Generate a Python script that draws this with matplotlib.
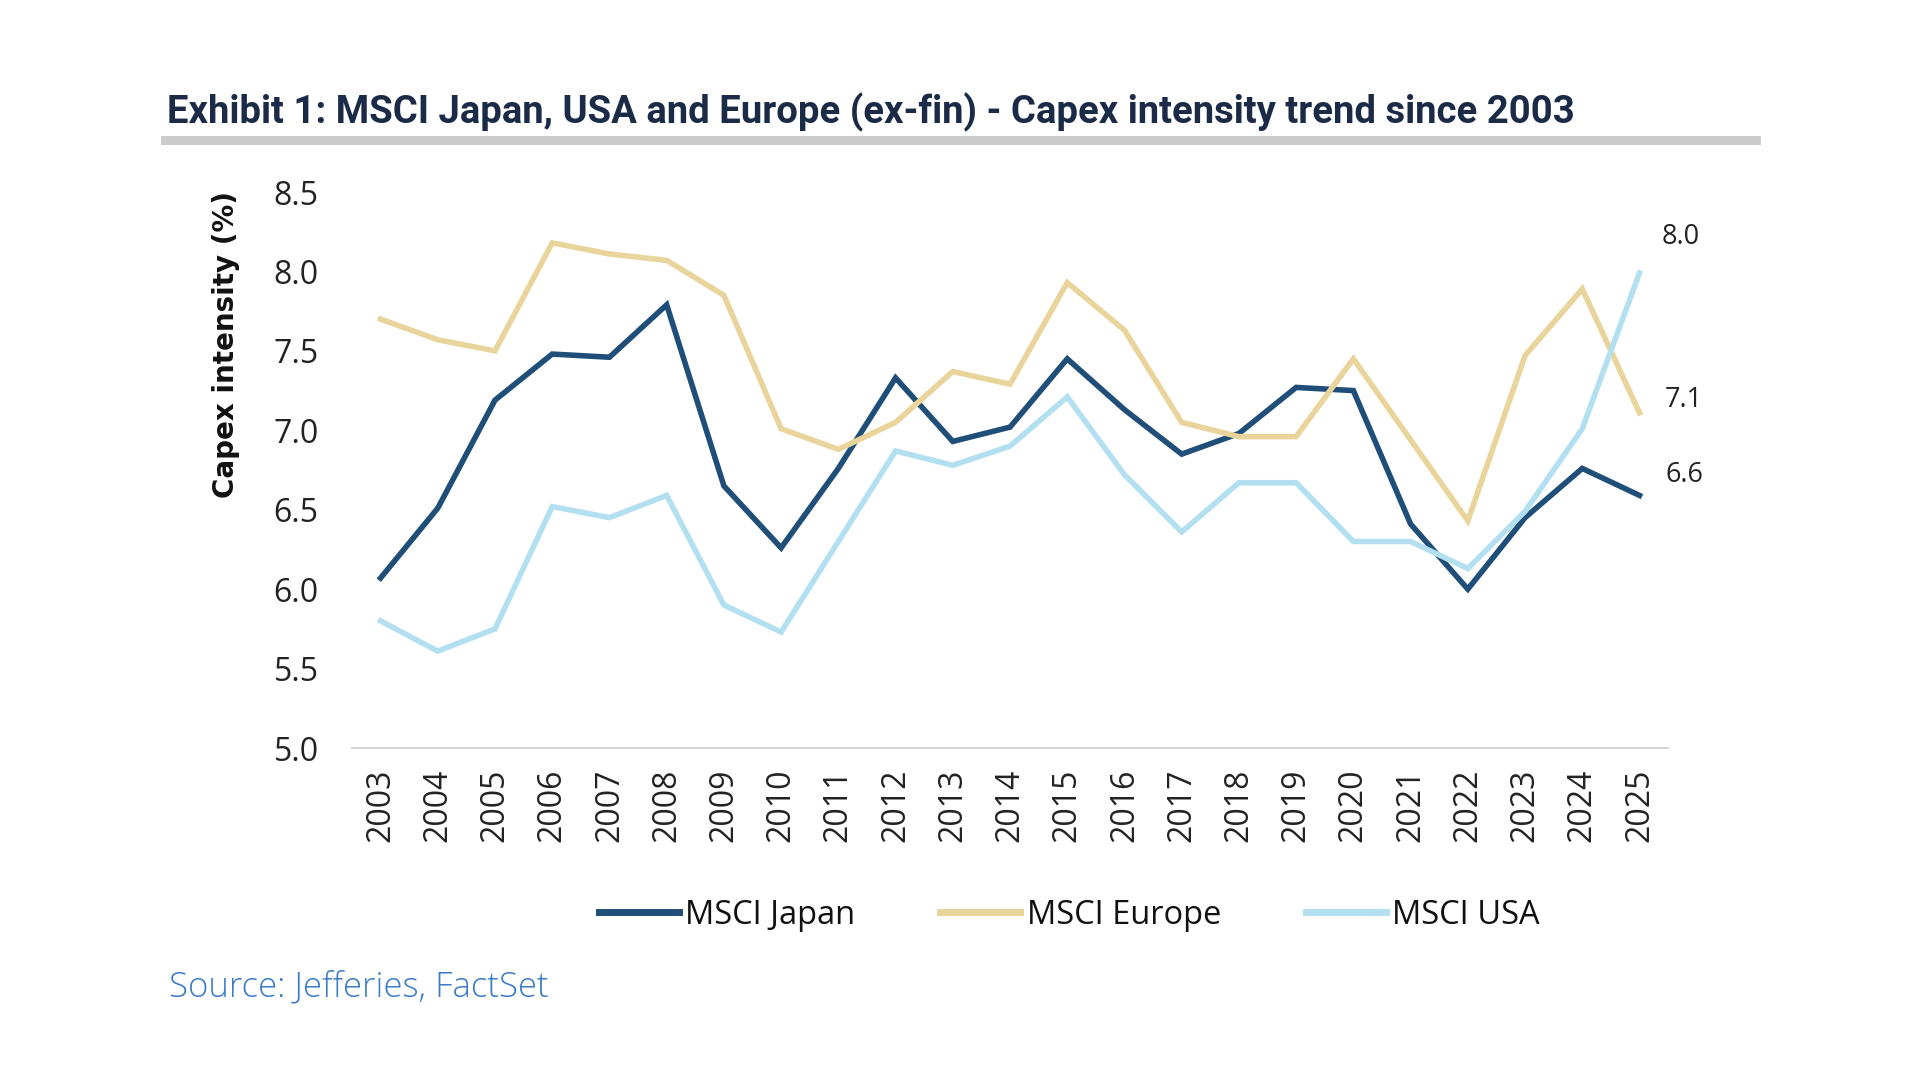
import matplotlib
matplotlib.use("Agg")
import matplotlib.pyplot as plt
from matplotlib.patches import Rectangle
from matplotlib.lines import Line2D

# Datos
anios = [str(a) for a in range(2003, 2026)]

msci_japan = [6.07, 6.51, 7.19, 7.48, 7.46, 7.79, 6.65, 6.26, 6.76, 7.33, 6.93, 7.02,
              7.45, 7.13, 6.85, 6.98, 7.27, 7.25, 6.41, 6.00, 6.45, 6.76, 6.59]
msci_europe = [7.70, 7.57, 7.50, 8.18, 8.11, 8.07, 7.85, 7.01, 6.88, 7.05, 7.37, 7.29,
               7.93, 7.63, 7.05, 6.96, 6.96, 7.45, 6.94, 6.43, 7.47, 7.89, 7.11]
msci_usa = [5.80, 5.61, 5.75, 6.52, 6.45, 6.59, 5.90, 5.73, 6.30, 6.87, 6.78, 6.90,
            7.21, 6.72, 6.36, 6.67, 6.67, 6.30, 6.30, 6.13, 6.49, 7.01, 7.99]

series = ["MSCI Japan", "MSCI Europe", "MSCI USA"]
yticks = [5.0, 5.5, 6.0, 6.5, 7.0, 7.5, 8.0, 8.5]

col_japan = "#1f4e79"
col_europe = "#e9d49b"
col_usa = "#b3e0f0"

fig = plt.figure(figsize=(19.2, 10.8), dpi=100)
fig.patch.set_facecolor("white")

ax = fig.add_axes([0.1833, 0.3074, 0.6855, 0.5148])

x = range(len(anios))
ax.plot(x, msci_japan, color=col_japan, lw=4, label=series[0], solid_joinstyle="miter")
ax.plot(x, msci_europe, color=col_europe, lw=4, label=series[1], solid_joinstyle="miter")
ax.plot(x, msci_usa, color=col_usa, lw=4, label=series[2], solid_joinstyle="miter")

ax.set_xlim(-0.5, len(anios) - 0.5)
ax.set_ylim(5.0, 8.5)
ax.set_yticks(yticks)
ax.set_yticklabels([f"{v:.1f}" for v in yticks], fontfamily="Open Sans", fontsize=23, color="#222222")
ax.set_xticks(list(x))
ax.set_xticklabels(anios, rotation=90, fontfamily="Open Sans", fontsize=23, color="#222222")
ax.tick_params(axis="y", length=0, pad=24)
ax.tick_params(axis="x", length=0, pad=15)

for s in ["top", "right", "left"]:
    ax.spines[s].set_visible(False)
ax.spines["bottom"].set_color("#d4d4d4")
ax.spines["bottom"].set_linewidth(1.5)

# etiquetas del ultimo valor
finales = [(msci_usa[-1], (41, 36)), (msci_europe[-1], (44, 13)), (msci_japan[-1], (45, 20))]
for val, off in finales:
    ax.annotate(f"{val:.1f}", xy=(len(anios) - 1, val), xytext=off, textcoords="offset pixels",
                ha="center", va="center", fontfamily="Open Sans", fontsize=19.5, color="#222222")

# titulo y barra gris
fig.text(0.087, 0.886, "Exhibit 1: MSCI Japan, USA and Europe (ex-fin) - Capex intensity trend since 2003",
         fontfamily="Roboto", fontweight="bold", fontsize=27.5, color="#1b2a47", va="baseline", ha="left")
fig.patches.append(Rectangle((0.0839, 0.8657), 0.8333, 0.0083, transform=fig.transFigure,
                             facecolor="#cccccc", edgecolor="none"))

fig.text(226 / 1920, 1 - 344 / 1080, "Capex intensity (%)", rotation=90, ha="center", va="center",
         fontfamily="DejaVu Sans", fontweight="bold", fontsize=20, color="#111111")

# leyenda
handles = [Line2D([], [], color=c, lw=5) for c in [col_japan, col_europe, col_usa]]
leg = fig.legend(handles, series, loc="center", bbox_to_anchor=(0.557, 1 - 915 / 1080), ncol=3,
                 frameon=False, prop={"family": "Open Sans", "size": 23.5},
                 handlelength=2.45, handletextpad=0.2, columnspacing=2.6)
for t in leg.get_texts():
    t.set_color("#111111")

fig.text(0.088, 1 - 987 / 1080, "Source: Jefferies, FactSet", fontfamily="Open Sans", fontweight="light",
         fontsize=25, color="#3a7cc6", va="center", ha="left")

fig.savefig("out.png", dpi=100, facecolor="white")
